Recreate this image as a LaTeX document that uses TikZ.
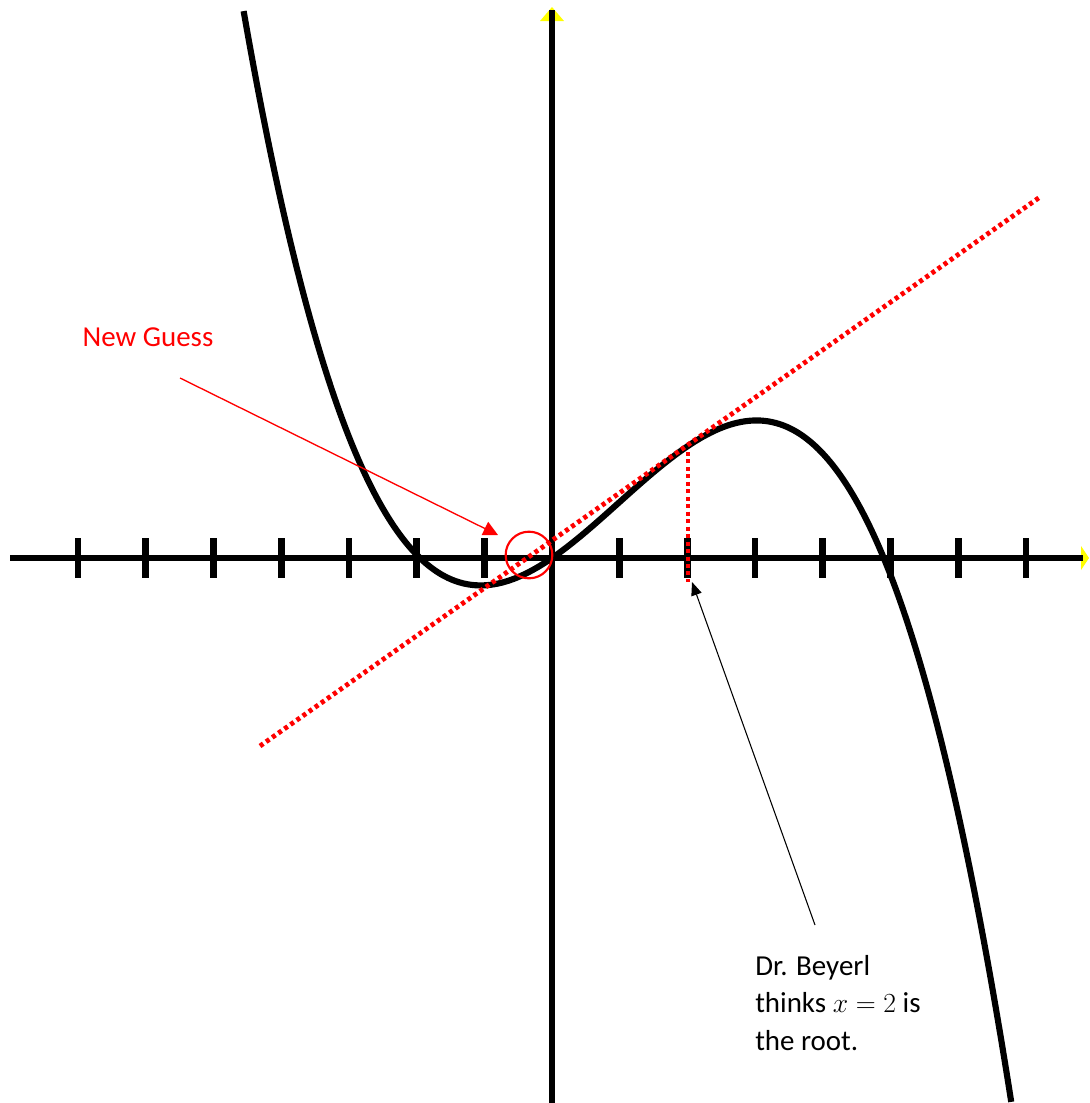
\documentclass[tikz,border=0pt]{standalone}
\usepackage{fontspec}
\setmainfont{Carlito}
\usetikzlibrary{arrows.meta}
\definecolor{myred}{RGB}{255,0,0}
\definecolor{myyellow}{RGB}{255,255,0}
\tikzset{
  axisline/.style={line width=4.5pt},
  tickmark/.style={line width=5pt},
  curveline/.style={line width=4.6pt, line join=round},
  reddots/.style={myred, line width=3.6pt, dash pattern=on 3pt off 2.6pt},
  lbl/.style={inner sep=0pt, font=\fontsize{21.7}{28.2}\selectfont},
}
\begin{document}
\begin{tikzpicture}[x=0.75pt,y=-0.75pt]
\useasboundingbox (0,0) rectangle (1089,1103);
% yellow arrow tips behind axes
\fill[myyellow] (552,7) -- (564,21) -- (540,21) -- cycle;
\fill[myyellow] (1089,558) -- (1081,546) -- (1081,570) -- cycle;
% axes
\coordinate (xl) at (10,558);
\coordinate (xr) at (1083,558);
\coordinate (yt) at (552,10);
\coordinate (yb) at (552,1103);
\draw[axisline] (xl) -- (xr);
\draw[axisline] (yb) -- (yt);
% ticks
\foreach \k in {-7,...,-1,1,2,...,7}{
  \draw[tickmark] ({552+67.7*\k},538) -- ({552+67.7*\k},578);
}
% cubic curve
\draw[curveline] plot[domain=-4.555:6.785, samples=200, smooth]
  ({552+67.7*\x},{558+67.7*0.072*\x*(\x+1.95)*(\x-4.9)});
% tangent line (dotted red)
\coordinate (ta) at (260,746);
\coordinate (tb) at (1040,197);
\draw[reddots] (ta) -- (tb);
\coordinate (va) at (688,452);
\coordinate (vb) at (688,582);
\draw[reddots] (va) -- (vb);
% circle
\node[draw=myred, line width=1.6pt, circle, minimum size=35pt, inner sep=0pt] (circ) at (529,555) {};
% labels
\node[lbl, text=myred] (ng) at (148,337) {New Guess};
\node[lbl, anchor=north west, align=left] (db) at (755,955) {Dr. Beyerl\\thinks $x=2$ is\\the root.};
% arrows
\coordinate (ngs) at (180,378);
\coordinate (ngt) at (498,535);
\draw[myred, line width=1pt, -{Triangle[length=11pt,width=11pt]}] (ngs) -- (ngt);
\coordinate (dbs) at (815,925);
\coordinate (dbt) at (692,582);
\draw[black, line width=0.8pt, -{Triangle[length=10pt,width=8pt]}] (dbs) -- (dbt);
\end{tikzpicture}
\end{document}
